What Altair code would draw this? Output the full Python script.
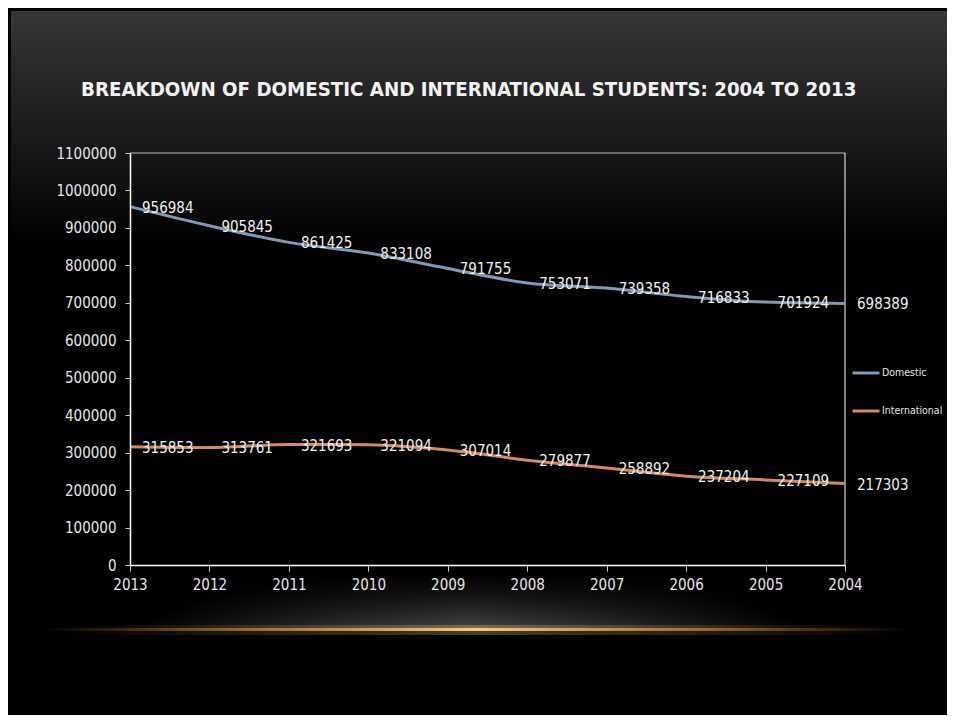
import altair as alt
import pandas as pd

years = ["2013", "2012", "2011", "2010", "2009", "2008", "2007", "2006", "2005", "2004"]
domestic = [956984, 905845, 861425, 833108, 791755, 753071, 739358, 716833, 701924, 698389]
international = [315853, 313761, 321693, 321094, 307014, 279877, 258892, 237204, 227109, 217303]
series = ["Domestic", "International"]
colors = ["#7f9bb6", "#d48a5b"]
y_ticks = list(range(0, 1100001, 100000))
title_text = "BREAKDOWN OF DOMESTIC AND INTERNATIONAL STUDENTS: 2004 TO 2013"

rows = []
for name, vals in zip(series, [domestic, international]):
    for yr, v in zip(years, vals):
        rows.append({"year": yr, "value": v, "series": name})
df = pd.DataFrame(rows)

W, H = 715, 412
OX, OY = 130, 153  # plot origin in page pixels
FONT = "'DejaVu Sans Condensed', 'Liberation Sans', sans-serif"


def px(a):
    return a - OX


def py(a):
    return a - OY


one = alt.Data(values=[{"k": 1}])


def deco_rect(x0, x1, y0, y1, **kw):
    return alt.Chart(one).mark_rect(**kw).encode(
        x=alt.value(px(x0)), x2=alt.value(px(x1)), y=alt.value(py(y0)), y2=alt.value(py(y1))
    )


layers = []
# slide background: grey at the top fading to black
layers.append(deco_rect(11, 960, 11, 730, fill={
    "gradient": "linear", "x1": 0, "x2": 0, "y1": 0, "y2": 1,
    "stops": [
        {"offset": 0, "color": "#363636"},
        {"offset": 0.2, "color": "#161616"},
        {"offset": 0.32, "color": "#000000"},
        {"offset": 1, "color": "#000000"},
    ],
}))

# soft grey glow above the orange line, built from thin horizontal strips
glow_grad = {
    "gradient": "linear", "x1": 0, "x2": 1, "y1": 0, "y2": 0,
    "stops": [
        {"offset": 0, "color": "rgba(110,110,110,0)"},
        {"offset": 0.3, "color": "rgba(110,110,110,0.6)"},
        {"offset": 0.5, "color": "rgba(110,110,110,0.9)"},
        {"offset": 0.7, "color": "rgba(110,110,110,0.6)"},
        {"offset": 1, "color": "rgba(110,110,110,0)"},
    ],
}
top_g, bot_g, cx = 570, 630, 470
n = (bot_g - top_g) // 2
for i in range(n):
    y0 = top_g + 2 * i
    t = (i + 1) / n  # 0 at top, 1 at bottom
    half = 140 + 200 * t ** 0.5
    layers.append(deco_rect(cx - half, cx + half, y0, y0 + 2, fill=glow_grad, opacity=0.7 * t ** 1.5))

hstops = [
    {"offset": 0, "color": "rgba(180,120,40,0)"},
    {"offset": 0.25, "color": "rgba(200,140,60,0.7)"},
    {"offset": 0.5, "color": "rgba(245,205,120,1)"},
    {"offset": 0.75, "color": "rgba(200,140,60,0.7)"},
    {"offset": 1, "color": "rgba(180,120,40,0)"},
]
hgrad = {"gradient": "linear", "x1": 0, "x2": 1, "y1": 0, "y2": 0, "stops": hstops}
layers.append(deco_rect(60, 900, 625, 635, fill=hgrad, opacity=0.3))
layers.append(deco_rect(40, 910, 628, 631, fill=hgrad))

# plot frame (top and right)
layers.append(alt.Chart(one).mark_rule(color="#bbbbbb", strokeWidth=1).encode(
    x=alt.value(0), x2=alt.value(W), y=alt.value(0)))
layers.append(alt.Chart(one).mark_rule(color="#ffffff", strokeWidth=1).encode(
    x=alt.value(W), y=alt.value(0), y2=alt.value(H)))

# title as text
layers.append(alt.Chart(one).mark_text(
    align="left", baseline="alphabetic", font=FONT, fontSize=20.3, fontWeight="bold", color="#f2f2f2"
).encode(x=alt.value(px(81)), y=alt.value(py(96)), text=alt.value(title_text)))

x_enc = alt.X(
    "year:O", sort=years, scale=alt.Scale(type="point", padding=0),
    axis=alt.Axis(title=None, labelAngle=0, labelFontSize=15, labelFont=FONT, labelColor="#e6e6e6",
                  domainColor="#ffffff", domainWidth=1.5, tickColor="#cccccc", tickSize=6, labelPadding=6,
                  labelOverlap=False, zindex=1),
)
y_enc = alt.Y(
    "value:Q", scale=alt.Scale(domain=[0, 1100000], nice=False),
    axis=alt.Axis(title=None, values=y_ticks, format="d", grid=False, labelFontSize=15, labelFont=FONT,
                  labelColor="#e6e6e6", domainColor="#ffffff", domainWidth=1.5, tickColor="#cccccc",
                  tickSize=5, labelPadding=9, labelOverlap=False, labelFlush=False, labelBound=False,
                  zindex=1),
)
color_enc = alt.Color(
    "series:N", scale=alt.Scale(domain=series, range=colors),
    legend=alt.Legend(title=None, orient="none", legendX=px(851), legendY=py(358), symbolType="stroke",
                      symbolStrokeWidth=3, symbolSize=729, labelFont=FONT, labelFontSize=10.5,
                      labelColor="#e6e6e6", rowPadding=17, labelOffset=1),
)

lines = alt.Chart(df).mark_line(interpolate="monotone", strokeWidth=3).encode(
    x=x_enc, y=y_enc, color=color_enc
)
labels = alt.Chart(df).mark_text(
    align="left", baseline="middle", dx=12, dy=1, font=FONT, fontSize=15, color="#f0f0f0"
).encode(x=x_enc, y=y_enc, text=alt.Text("value:Q", format="d"))
layers += [lines, labels]

chart = alt.layer(*layers).properties(
    width=W, height=H,
    padding={"left": OX - 8, "top": OY - 8, "right": 955 - 16 - (OX - 8) - W, "bottom": 723 - 16 - (OY - 8) - H},
    autosize=alt.AutoSizeParams(type="none"),
    background="#000000",
).configure_view(stroke=None)

chart.save("out.html", embed_options={"renderer": "svg", "actions": False})
